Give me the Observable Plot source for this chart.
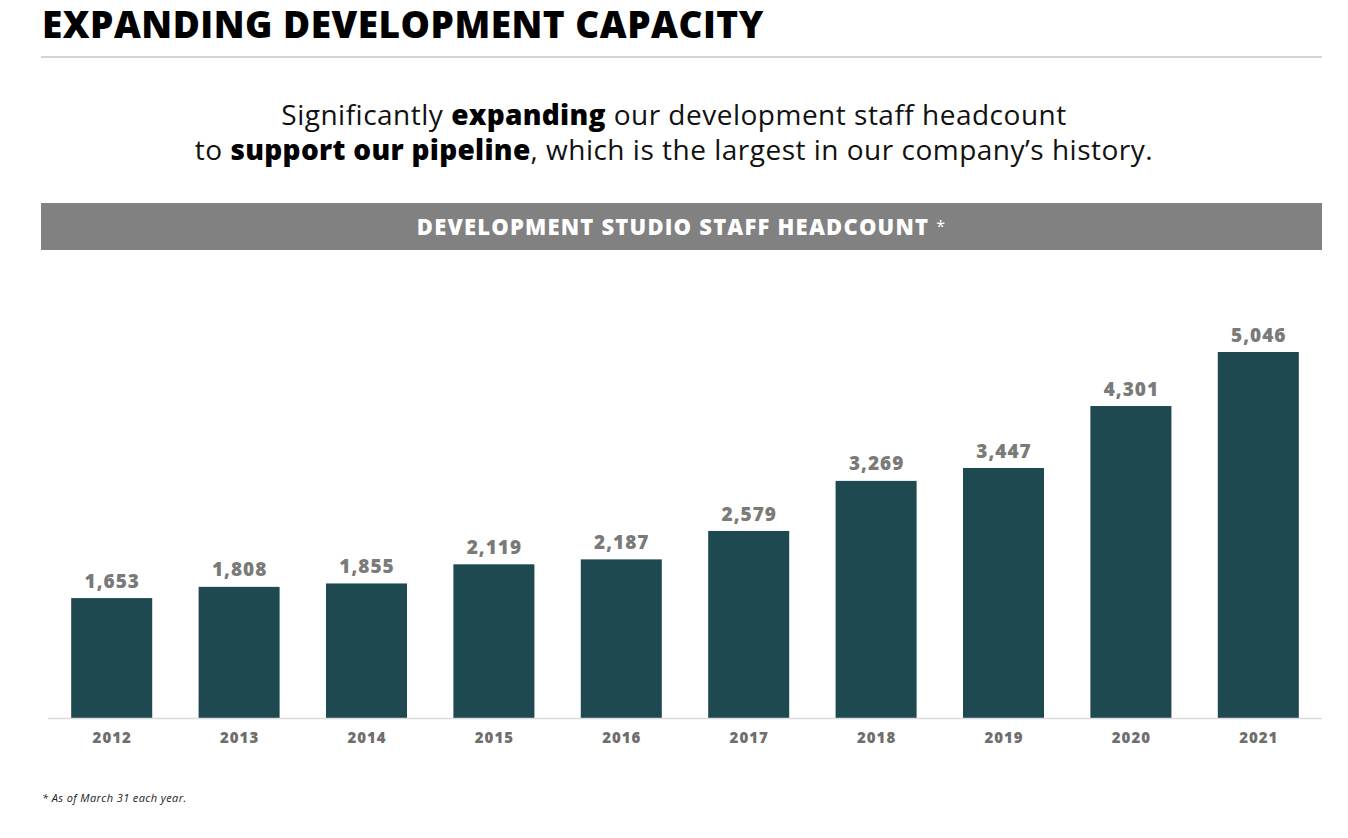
<!DOCTYPE html>
<html>
<head>
<meta charset="utf-8">
<script src="https://cdn.jsdelivr.net/npm/d3@7"></script>
<script src="https://cdn.jsdelivr.net/npm/@observablehq/plot@0.6"></script>
<style>
  body { margin: 0; width: 1348px; height: 838px; background: #fff; position: relative; font-family: "Open Sans", sans-serif; overflow: hidden; }
  #title { position: absolute; left: 42px; top: 0px; font-size: 37px; font-weight: 800; color: #000; letter-spacing: 0.5px; line-height: 48px; }
  #rule { position: absolute; left: 41px; top: 56px; width: 1281px; height: 2px; background: #d4d4d4; }
  #sub { position: absolute; left: 0; width: 1348px; top: 97px; text-align: center; font-size: 28px; line-height: 35px; color: #111; letter-spacing: 0.5px; }
  #sub b { font-weight: 800; color: #000; letter-spacing: 0.3px; }
  #banner { position: absolute; left: 41px; top: 203px; width: 1281px; height: 47px; background: #818181; color: #fff; text-align: center; font-size: 22px; font-weight: 800; line-height: 47px; letter-spacing: 1.2px; }
  #banner span { font-weight: 400; font-size: 16px; vertical-align: 3px; }
  #chart { position: absolute; left: 0; top: 260px; }
  #chart svg text { letter-spacing: 1px; }
  #foot { position: absolute; left: 42px; top: 790px; font-size: 11px; font-style: italic; color: #222; letter-spacing: 0.4px; }
</style>
</head>
<body>
<div id="title">EXPANDING DEVELOPMENT CAPACITY</div>
<div id="rule"></div>
<div id="sub">Significantly <b>expanding</b> our development staff headcount<br>to <b>support our pipeline</b>, which is the largest in our company’s history.</div>
<div id="banner">DEVELOPMENT STUDIO STAFF HEADCOUNT <span>*</span></div>
<div id="chart"></div>
<div id="foot">* As of March 31 each year.</div>
<script>
const years = ["2012","2013","2014","2015","2016","2017","2018","2019","2020","2021"];
const headcount = [1653, 1808, 1855, 2119, 2187, 2579, 3269, 3447, 4301, 5046];
const data = years.map((y, i) => ({year: y, value: headcount[i]}));

const chart = Plot.plot({
  width: 1348,
  height: 500,
  marginLeft: 48,
  marginRight: 26,
  marginTop: 92,
  marginBottom: 42,
  x: {domain: years, paddingInner: 0.364, paddingOuter: 0.182, round: false, label: null, tickSize: 0, tickPadding: 14},
  y: {domain: [0, 5046], axis: null},
  style: {fontFamily: "Open Sans, sans-serif", background: "#fff"},
  marks: [
    Plot.barY(data, {x: "year", y: "value", fill: "#1f4950"}),
    Plot.ruleY([0], {stroke: "#dcdcdc", strokeWidth: 1.5}),
    Plot.text(data, {x: "year", y: "value", text: d => d3.format(",")(d.value), dy: -17, fill: "#7a7a78", fontSize: 19, fontWeight: 800}),
    Plot.axisX({tickSize: 0, tickPadding: 14, fontSize: 15, fontWeight: 800, color: "#6e6e6e", label: null})
  ]
});
document.getElementById("chart").appendChild(chart);
</script>
</body>
</html>
